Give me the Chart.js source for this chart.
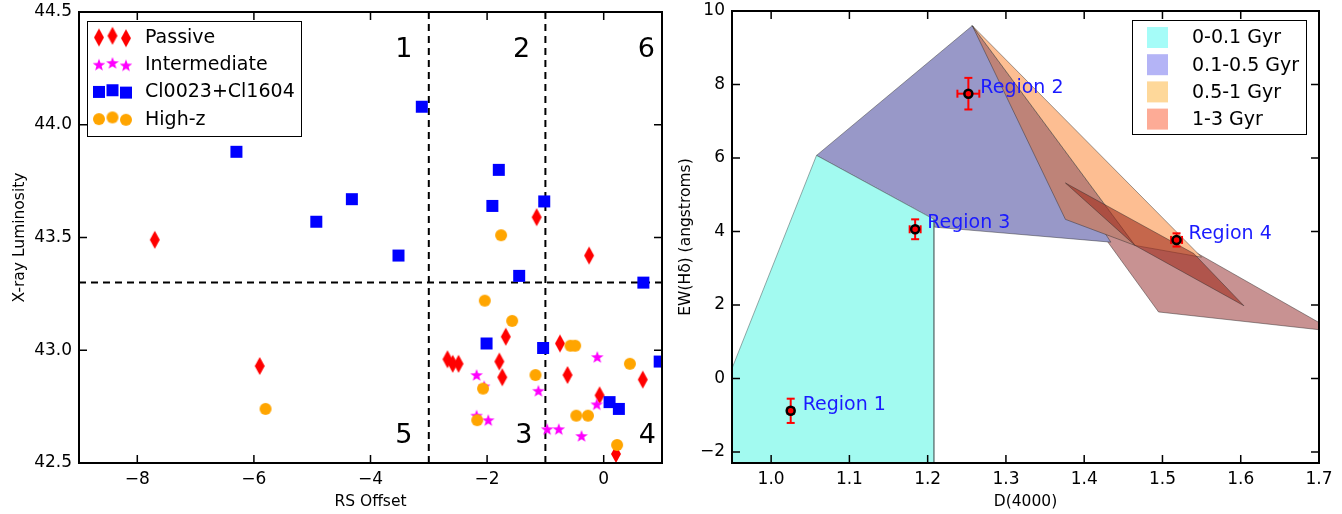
<!DOCTYPE html>
<html>
<head>
<meta charset="utf-8">
<script src="https://cdn.jsdelivr.net/npm/chart.js@4.4.0/dist/chart.umd.min.js"></script>
<style>
  html, body { margin: 0; padding: 0; background: #fff; }
  #wrap { position: relative; width: 1342px; height: 514px; }
  .pane { position: absolute; top: 0; width: 671px; height: 514px; }
</style>
</head>
<body>
<div id="wrap">
  <div class="pane" style="left:0"><canvas id="left" width="671" height="514"></canvas></div>
  <div class="pane" style="left:671px"><canvas id="right" width="671" height="514"></canvas></div>
</div>
<script>
// ================ left panel data ================
const passiveX = [-7.7, -5.9, -1.15, -0.25, -1.68, -0.75, -2.68, -2.59, -2.49, -1.79, -1.74, -0.62, 0.67, -0.07, 0.21];
const passiveY = [43.49, 42.93, 43.59, 43.42, 43.06, 43.03, 42.96, 42.94, 42.94, 42.95, 42.88, 42.89, 42.87, 42.80, 42.54];
const interX = [-2.18, -2.05, -0.11, -1.12, -0.12, -2.18, -1.98, -0.97, -0.77, -0.38];
const interY = [42.89, 42.84, 42.97, 42.82, 42.76, 42.71, 42.69, 42.65, 42.65, 42.62];
const clusterX = [-3.12, -6.3, -1.8, -4.32, -4.93, -1.91, -1.02, -3.52, -1.45, 0.68, -2.01, -1.04, 0.96, 0.10, 0.26];
const clusterY = [44.08, 43.88, 43.80, 43.67, 43.57, 43.64, 43.66, 43.42, 43.33, 43.30, 43.03, 43.01, 42.95, 42.77, 42.74];
const highzX = [-1.76, -2.04, -1.57, -0.57, -0.49, 0.45, -1.17, -2.07, -5.80, -0.47, -0.27, -2.17, 0.23];
const highzY = [43.51, 43.22, 43.13, 43.02, 43.02, 42.94, 42.89, 42.83, 42.74, 42.71, 42.71, 42.69, 42.58];
const seriesNames = ["Passive", "Intermediate", "Cl0023+Cl1604", "High-z"];

const xTicksLeft = [-8, -6, -4, -2, 0];
const yTicksLeft = [42.5, 43.0, 43.5, 44.0, 44.5];
const dividerX = [-3, -1];
const dividerY = 43.3;
const quadrantNames = ["1", "2", "6", "5", "3", "4"];
const quadrantX = [-3.43, -1.41, 0.73, -3.43, -1.37, 0.75];
const quadrantY = [44.30, 44.30, 44.30, 42.59, 42.59, 42.59];

// ================ right panel data ================
const ageNames = ["0-0.1 Gyr", "0.1-0.5 Gyr", "0.5-1 Gyr", "1-3 Gyr"];
const cyanX = [0.93, 1.058, 1.208, 1.208, 0.93];
const cyanY = [-0.8, 6.07, 4.33, -3, -3];
const purpleX = [1.058, 1.257, 1.434, 1.208, 1.208];
const purpleY = [6.07, 9.6, 3.71, 4.12, 4.33];
const bandX = [1.257, 1.376, 1.465];
const bandY = [9.6, 4.33, 3.62];
const orangeX = [1.257, 1.465, 1.55];
const orangeY = [9.6, 3.62, 3.3];
const oldX = [1.40, 1.495, 1.72, 1.536];
const oldY = [4.6, 1.81, 1.28, 3.51];
const darkX = [1.376, 1.54, 1.604, 1.465];
const darkY = [5.32, 3.40, 1.98, 3.62];

const regionNames = ["Region 1", "Region 2", "Region 3", "Region 4"];
const regionD4000 = [1.025, 1.252, 1.184, 1.518];
const regionEW = [-0.88, 7.75, 4.06, 3.77];
const regionD4000Err = [0.004, 0.014, 0.007, 0.007];
const regionEWErr = [0.33, 0.43, 0.27, 0.18];

const xTicksRight = [1.0, 1.1, 1.2, 1.3, 1.4, 1.5, 1.6, 1.7];
const yTicksRight = [-2, 0, 2, 4, 6, 8, 10];

// ================ helpers ================
const FONT = "DejaVu Sans";
const minus = (s) => s.replace("-", "\u2212");
const pts = (xs, ys) => xs.map((x, i) => ({ x, y: ys[i] }));
const closed = (xs, ys) => pts(xs.concat(xs[0]), ys.concat(ys[0]));

function markerCanvas(kind, color) {
	const c = document.createElement("canvas");
	const w = kind === "diamond" ? 12 : 14;
	const h = kind === "diamond" ? 20 : 14;
	c.width = w;
	c.height = h;
	const g = c.getContext("2d");
	g.fillStyle = color;
	g.beginPath();
	if (kind === "diamond") {
		g.moveTo(w / 2, 1);
		g.lineTo(w - 1, h / 2);
		g.lineTo(w / 2, h - 1);
		g.lineTo(1, h / 2);
	} else if (kind === "square") {
		g.rect(1, 1, 12, 12);
	} else if (kind === "circle") {
		g.arc(7, 7, 6, 0, Math.PI * 2);
	} else {
		for (let i = 0; i < 10; i++) {
			const r = i % 2 ? 2.7 : 6.6;
			const a = -Math.PI / 2 + (i * Math.PI) / 5;
			g.lineTo(7 + r * Math.cos(a), 7.5 + r * Math.sin(a));
		}
	}
	g.closePath();
	g.fill();
	return c;
}
const markers = [
	markerCanvas("diamond", "#ff0000"),
	markerCanvas("star", "#ff00ff"),
	markerCanvas("square", "#0000ff"),
	markerCanvas("circle", "#ffa500"),
];

function makeAxis(min, max, tickVals, fmt, title, size, horizontal, titlePad) {
	return {
		type: "linear",
		min,
		max,
		afterBuildTicks: (s) => {
			s.ticks = tickVals.map((v) => ({ value: v }));
		},
		afterFit: (s) => {
			if (horizontal) s.height = size;
			else s.width = size;
			// let layout padding alone decide the plot box
			s.paddingTop = 0;
			s.paddingBottom = 0;
			s.paddingLeft = 0;
			s.paddingRight = 0;
		},
		grid: { display: false, drawTicks: false },
		border: { display: false },
		ticks: {
			font: { family: FONT, size: 17 },
			color: "#000",
			padding: horizontal ? 6 : 7,
			autoSkip: false,
			maxRotation: 0,
			callback: fmt,
		},
		title: {
			display: true,
			text: title,
			font: { family: FONT, size: 15.5 },
			color: "#000",
			padding: titlePad,
		},
	};
}

// frame with inward ticks on all four sides (matplotlib look)
const framePlugin = {
	id: "frame",
	afterDatasetsDraw(chart) {
		const { ctx, chartArea: a, scales } = chart;
		ctx.save();
		ctx.strokeStyle = "#000";
		ctx.lineWidth = 1.5;
		ctx.beginPath();
		for (const t of scales.x.ticks) {
			const px = scales.x.getPixelForValue(t.value);
			ctx.moveTo(px, a.bottom);
			ctx.lineTo(px, a.bottom - 8);
			ctx.moveTo(px, a.top);
			ctx.lineTo(px, a.top + 8);
		}
		for (const t of scales.y.ticks) {
			const py = scales.y.getPixelForValue(t.value);
			ctx.moveTo(a.left, py);
			ctx.lineTo(a.left + 8, py);
			ctx.moveTo(a.right, py);
			ctx.lineTo(a.right - 8, py);
		}
		ctx.stroke();
		ctx.lineWidth = 2;
		ctx.strokeRect(a.left, a.top, a.width, a.height);
		ctx.restore();
	},
};

// ================ left chart ================
const leftText = {
	id: "leftText",
	afterDraw(chart) {
		const { ctx, scales } = chart;
		ctx.save();
		ctx.fillStyle = "#000";
		ctx.font = `27px '${FONT}'`;
		ctx.textAlign = "center";
		ctx.textBaseline = "alphabetic";
		quadrantNames.forEach((t, i) => {
			ctx.fillText(t, scales.x.getPixelForValue(quadrantX[i]), scales.y.getPixelForValue(quadrantY[i]));
		});
		// legend with three markers per row
		ctx.fillStyle = "#fff";
		ctx.fillRect(87, 21, 215, 116);
		ctx.strokeStyle = "#000";
		ctx.lineWidth = 1;
		ctx.strokeRect(87.5, 21.5, 214, 115);
		const jitter = [0.5, -1.2, 1.2];
		const mx = [99, 112.5, 126];
		ctx.font = `19px '${FONT}'`;
		ctx.textAlign = "left";
		ctx.textBaseline = "middle";
		seriesNames.forEach((name, i) => {
			const ry = 37 + i * 27.2;
			const m = markers[i];
			mx.forEach((x, k) => ctx.drawImage(m, x - m.width / 2, ry + jitter[k] - m.height / 2));
			ctx.fillStyle = "#000";
			ctx.fillText(name, 145, ry + 1);
		});
		ctx.restore();
	},
};

const scatterSet = (label, xs, ys, m, order) => ({
	type: "scatter",
	label,
	data: pts(xs, ys),
	pointStyle: m,
	pointRadius: 7,
	order,
	clip: 0,
});
const dashSet = (data) => ({
	type: "line",
	data,
	borderColor: "#000",
	borderWidth: 2,
	borderDash: [7, 5],
	pointRadius: 0,
	fill: false,
	order: 10,
	clip: 0,
});

new Chart(document.getElementById("left"), {
	type: "scatter",
	data: {
		datasets: [
			scatterSet(seriesNames[0], passiveX, passiveY, markers[0], 4),
			scatterSet(seriesNames[1], interX, interY, markers[1], 3),
			scatterSet(seriesNames[2], clusterX, clusterY, markers[2], 2),
			scatterSet(seriesNames[3], highzX, highzY, markers[3], 1),
			...dividerX.map((v) => dashSet([{ x: v, y: 42.5 }, { x: v, y: 44.5 }])),
			dashSet([{ x: -9, y: dividerY }, { x: 1, y: dividerY }]),
		],
	},
	options: {
		responsive: false,
		animation: false,
		devicePixelRatio: 1,
		events: [],
		layout: { padding: { left: 0, top: 12, right: 9, bottom: 0 } },
		plugins: { legend: { display: false }, tooltip: { enabled: false } },
		scales: {
			x: makeAxis(-9, 1, xTicksLeft, (v) => minus(String(v)), "RS Offset", 51, true, { top: 0, bottom: 3 }),
			y: makeAxis(42.5, 44.5, yTicksLeft, (v) => v.toFixed(1), "X-ray Luminosity", 79, false, { top: 11, bottom: 0 }),
		},
	},
	plugins: [framePlugin, leftText],
});

// ================ right chart ================
const polySet = (xs, ys, fillColor, order, edge) => ({
	type: "line",
	data: closed(xs, ys),
	backgroundColor: fillColor,
	borderColor: edge || "rgba(40,40,40,0.45)",
	borderWidth: 1,
	fill: "shape",
	tension: 0,
	pointRadius: 0,
	order,
	clip: 0,
});
const errSet = (data, rotation) => ({
	type: "line",
	data,
	borderColor: "#ff0000",
	borderWidth: 2,
	pointStyle: "line",
	pointRadius: 4,
	pointRotation: rotation,
	pointBorderColor: "#ff0000",
	pointBorderWidth: 2,
	fill: false,
	order: 3,
	clip: false,
});

const rightText = {
	id: "rightText",
	afterDraw(chart) {
		const { ctx, scales } = chart;
		ctx.save();
		ctx.font = `19px '${FONT}'`;
		ctx.fillStyle = "#1a1aff";
		ctx.textAlign = "left";
		ctx.textBaseline = "middle";
		regionNames.forEach((t, i) => {
			ctx.fillText(t, scales.x.getPixelForValue(regionD4000[i]) + 12, scales.y.getPixelForValue(regionEW[i]) - 6);
		});
		// legend
		ctx.fillStyle = "#fff";
		ctx.fillRect(461, 20, 175, 115);
		ctx.strokeStyle = "#000";
		ctx.lineWidth = 1;
		ctx.strokeRect(461.5, 20.5, 174, 114);
		const patch = ["#a5fcf8", "#b4b4f6", "#fed89a", "#fdab96"];
		ageNames.forEach((name, i) => {
			const ry = 37.5 + i * 27.2;
			ctx.fillStyle = patch[i];
			ctx.fillRect(476, ry - 10.5, 21, 21);
			ctx.fillStyle = "#000";
			ctx.fillText(name, 521, ry + 1);
		});
		ctx.restore();
	},
};

new Chart(document.getElementById("right"), {
	type: "scatter",
	data: {
		datasets: [
			polySet(oldX, oldY, "rgb(200,146,146)", 20),
			polySet(purpleX, purpleY, "rgb(152,152,200)", 19),
			polySet(bandX, bandY, "rgb(190,131,120)", 18),
			polySet(orangeX, orangeY, "rgb(253,190,146)", 17),
			polySet(darkX, darkY, "rgba(160,45,30,0.6)", 16),
			polySet(cyanX, cyanY, "rgb(162,250,240)", 15, "rgba(90,110,110,0.6)"),
			...regionD4000.map((x, i) =>
				errSet([{ x, y: regionEW[i] - regionEWErr[i] }, { x, y: regionEW[i] + regionEWErr[i] }], 0)
			),
			...regionD4000.map((x, i) =>
				errSet([{ x: x - regionD4000Err[i], y: regionEW[i] }, { x: x + regionD4000Err[i], y: regionEW[i] }], 90)
			),
			{
				type: "scatter",
				data: pts(regionD4000, regionEW),
				pointStyle: "circle",
				pointRadius: 4,
				backgroundColor: "#ff0000",
				borderColor: "#000",
				borderWidth: 2.5,
				order: 1,
				clip: false,
			},
		],
	},
	options: {
		responsive: false,
		animation: false,
		devicePixelRatio: 1,
		events: [],
		layout: { padding: { left: 0, top: 11, right: 23, bottom: 0 } },
		plugins: { legend: { display: false }, tooltip: { enabled: false } },
		scales: {
			x: makeAxis(0.95, 1.7, xTicksRight, (v) => v.toFixed(1), "D(4000)", 51, true, { top: 0, bottom: 3 }),
			y: makeAxis(-2.3, 10, yTicksRight, (v) => minus(String(v)), "EW(H\u03b4) (angstroms)", 61, false, { top: 6, bottom: 0 }),
		},
	},
	plugins: [framePlugin, rightText],
});
</script>
</body>
</html>
